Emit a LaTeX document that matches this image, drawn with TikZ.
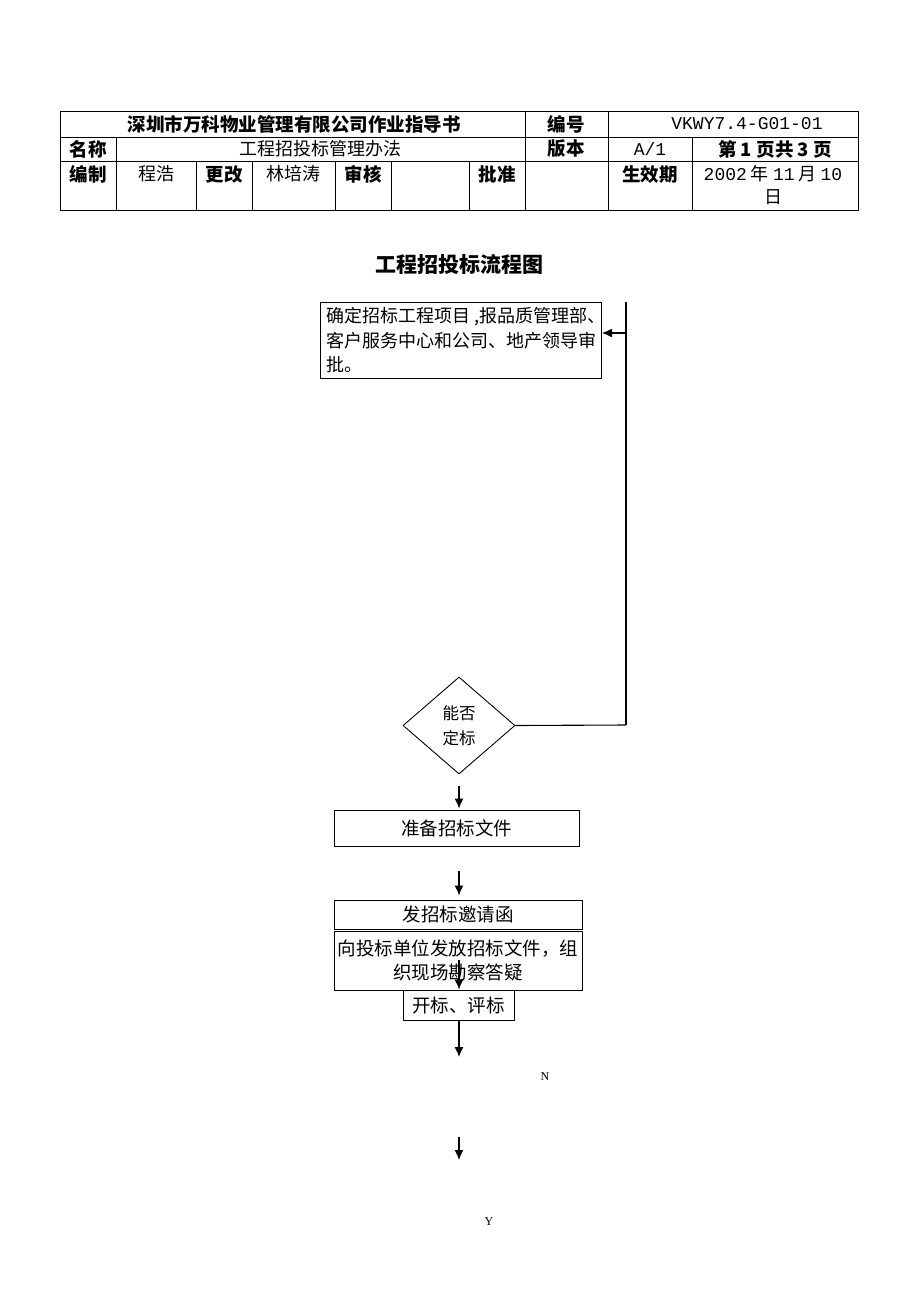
\documentclass[tikz,border=0pt]{standalone}
\usepackage{fontspec}
\setmainfont{Noto Sans CJK SC}
\newfontfamily\hw{Liberation Mono}
\newfontfamily\lat{Liberation Serif}
\usetikzlibrary{shapes.geometric,arrows.meta}

\begin{document}
\begin{tikzpicture}[x=1pt,y=-1pt,>={Latex[length=10pt,width=9pt]},
	tbl/.style={line width=0.8pt},
	box/.style={draw,line width=1pt,inner sep=0pt,font=\fontsize{18.5}{24.5}\selectfont},
	lab/.style={font=\fontsize{18.5}{23}\selectfont\bfseries},
	txt/.style={font=\fontsize{18}{23}\selectfont},
	arr/.style={->,line width=1.3pt}]
	\useasboundingbox (0,0) rectangle (920,1302);
	% header table
	\draw[tbl] (60,111) rectangle (858,210) (60,137)--(858,137) (60,161)--(858,161);
	\draw[tbl] (525,111)--(525,210) (608,111)--(608,210) (116,137)--(116,210) (692,137)--(692,210);
	\foreach \c in {196,252,335,391,469} \draw[tbl] (\c,161)--(\c,210);
	\node[lab] (t11) at (294,124) {深圳市万科物业管理有限公司作业指导书};
	\node[lab] (t12) at (566,124) {编号};
	\node[txt] (t13) at (747,124) {\hw VKWY7.4-G01-01};
	\node[lab] (t21) at (88,149) {名称};
	\node[txt] (t22) at (320,149) {工程招投标管理办法};
	\node[lab] (t23) at (566,149) {版本};
	\node[txt] (t24) at (650,149) {\hw A/1};
	\node[lab] (t25) at (775,149) {第 1 页共 3 页};
	\node[lab] (t31) at (88,174) {编制};
	\node[txt] (t32) at (156,174) {程浩};
	\node[lab] (t33) at (224,174) {更改};
	\node[txt] (t34) at (293,174) {林培涛};
	\node[lab] (t35) at (363,174) {审核};
	\node[lab] (t36) at (497,174) {批准};
	\node[lab] (t37) at (650,174) {生效期};
	\node[txt,align=center,anchor=north] (t38) at (773,162) {{\hw 2002} 年 {\hw 11} 月 {\hw 10}\\日};
	% title
	\node[font=\fontsize{21}{26}\selectfont\bfseries] (title) at (459,265) {工程招投标流程图};
	% flow
	\node[box,anchor=north west,minimum width=281pt,minimum height=76pt,text width=269pt,align=left,
		font=\fontsize{18}{24.5}\selectfont] (b1) at (320,302)
		{确定招标工程项目\kern4pt,报品质管理部、\\客户服务中心和公司、地产领导审\\批。};
	\coordinate (rt) at (626,302);
	\coordinate (rb) at (626,725);
	\coordinate (ra) at (626,333);
	\draw[line width=1.1pt] (rt)--(rb);
	\draw[arr] (ra)--(ra-|b1.east);
	\node[draw,diamond,line width=0.9pt,minimum width=112pt,minimum height=97pt,inner sep=0pt,align=center,
		font=\fontsize{16.5}{25}\selectfont] (d1) at (459,725.5) {能否\\定标};
	\draw[line width=1.1pt] (d1.east)--(rb);
	\node[box,minimum width=245pt,minimum height=36pt] (b2) at (456.5,828) {准备招标文件};
	\node[box,minimum width=248pt,minimum height=29pt] (b3) at (458,914.5) {发招标邀请函};
	\node[box,minimum width=248pt,minimum height=59pt,align=center] (b4) at (458,960.5) {向投标单位发放招标文件，组\\织现场勘察答疑};
	\node[box,minimum width=111pt,minimum height=30pt] (b5) at (458.5,1005) {开标、评标};
	\coordinate (c1) at (459,786);
	\coordinate (c2) at (459,871);
	\coordinate (c3) at (459,960);
	\coordinate (c4) at (459,1057);
	\coordinate (c5) at (459,1137);
	\coordinate (c6) at (459,1160);
	\draw[arr,shorten >=1pt] (c1)--(c1|-b2.north);
	\draw[arr,shorten >=4pt] (c2)--(c2|-b3.north);
	\draw[arr] (c3)--(c3|-b5.north);
	\draw[arr] (c4|-b5.south)--(c4);
	\draw[arr] (c5)--(c6);
	\node[font=\lat\fontsize{12}{14}\selectfont] (n) at (545,1077) {N};
	\node[font=\lat\fontsize{12}{14}\selectfont] (y) at (489,1222) {Y};
\end{tikzpicture}
\end{document}
